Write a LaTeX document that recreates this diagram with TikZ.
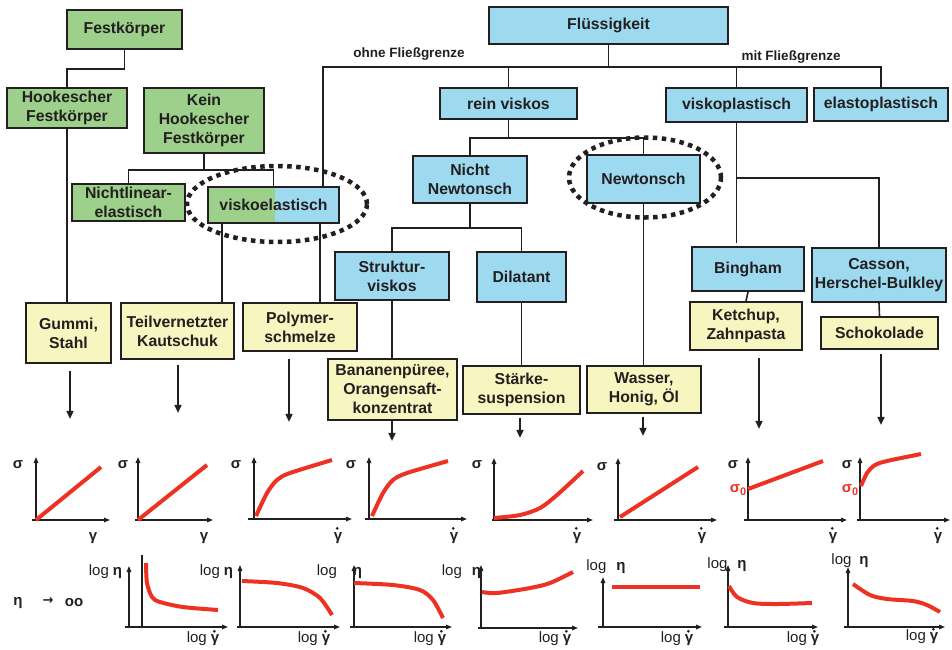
\documentclass[tikz,border=0pt]{standalone}
\usepackage{fontspec}
\setmainfont{Liberation Sans}
\newfontfamily\djv{DejaVu Sans}
\usetikzlibrary{arrows.meta,calc}
\definecolor{gfill}{HTML}{9CD08B}
\definecolor{bfill}{HTML}{9DDAF0}
\definecolor{yfill}{HTML}{F7F5C0}
\definecolor{rc}{HTML}{ED3224}
\definecolor{lc}{HTML}{231F20}
\newcommand\bx[6]{\node[#1,minimum width=#4pt,minimum height=#5pt] (#2) at (#3) {#6};}
\newcommand\lge[1]{log\hspace{#1}{\bfseries η}}
\newcommand\lgg{log\hspace{4pt}{\bfseries γ}}
\begin{document}
\begin{tikzpicture}[x=1pt,y=-1pt,line join=miter,
  box/.style={draw=lc,line width=1.8pt,inner sep=0pt,align=center,text=lc,
    font=\fontsize{15.8}{19}\selectfont\bfseries},
  gbox/.style={box,fill=gfill},
  bbox/.style={box,fill=bfill},
  ybox/.style={box,fill=yfill},
  conn/.style={draw=lc,line width=1.6pt},
  arr/.style={conn,-{Triangle[length=8pt,width=7pt]}},
  ax/.style={draw=lc,line width=1.4pt,-{Triangle[length=6pt,width=4.5pt]}},
  axn/.style={draw=lc,line width=1.4pt},
  crv/.style={draw=rc,line width=4pt},
  lbl/.style={inner sep=0pt,text=lc,font=\fontsize{15}{15}\selectfont\bfseries},
  lg/.style={inner sep=0pt,text=lc,font=\fontsize{15}{15}\selectfont},
  rlbl/.style={inner sep=0pt,text=rc,font=\fontsize{15}{15}\selectfont\bfseries},
  dots/.style={draw=lc,line width=4.5pt,dash pattern=on 4.5pt off 4.5pt},
  note/.style={inner sep=0pt,text=lc,font=\fontsize{13.5}{15}\selectfont\bfseries},
  gdot/.style={fill=lc}]
\useasboundingbox (0,0) rectangle (952,649);

% ---------- boxes ----------
\bx{gbox}{fest}{124.5,29.5}{115}{39}{Festkörper}
\bx{gbox}{hook}{67,108}{120}{40}{Hookescher\\Festkörper}
\bx{gbox}{kein}{204,120.5}{120}{65}{Kein\\Hookescher\\Festkörper}
\bx{gbox}{nle}{128.5,202.5}{113}{37}{Nichtlinear-\\elastisch}
\node[gbox,minimum width=131pt,minimum height=36pt,
  path picture={\fill[bfill] ($(path picture bounding box.south)+(1.5,0)$) rectangle (path picture bounding box.north east);}]
  (vis) at (273.5,205) {viskoelastisch};
\bx{bbox}{fl}{608.5,25.5}{239}{37}{Flüssigkeit}
\bx{bbox}{rein}{508.5,103.5}{137}{31}{rein viskos}
\bx{bbox}{vplast}{736.5,105}{141}{34}{viskoplastisch}
\bx{bbox}{elast}{881,104.5}{134}{33}{elastoplastisch}
\bx{bbox}{nn}{470,179.5}{114}{47}{Nicht\\Newtonsch}
\bx{bbox}{newt}{643.5,179}{113}{48}{Newtonsch}
\bx{bbox}{struk}{392,276}{114}{48}{Struktur-\\viskos}
\bx{bbox}{dil}{521.5,277}{89}{50}{Dilatant}
\bx{bbox}{bing}{748,269}{112}{44}{Bingham}
\bx{bbox}{cas}{879,275}{134}{54}{Casson,\\Herschel-Bulkley}
\bx{ybox}{gummi}{68.5,333}{85}{60}{Gummi,\\Stahl}
\bx{ybox}{teil}{177.5,331}{113}{56}{Teilvernetzter\\Kautschuk}
\bx{ybox}{poly}{300,327}{114}{48}{Polymer-\\schmelze}
\bx{ybox}{banan}{392.5,389.5}{129}{61}{Bananenpüree,\\Orangensaft-\\konzentrat}
\bx{ybox}{staerke}{521.5,390}{117}{48}{Stärke-\\suspension}
\bx{ybox}{wasser}{644,389.5}{114}{47}{Wasser,\\Honig, Öl}
\bx{ybox}{ketch}{746,326}{112}{48}{Ketchup,\\Zahnpasta}
\bx{ybox}{schok}{879.5,333}{117}{32}{Schokolade}

% ---------- connectors ----------
\coordinate (fbar1) at ($(fest.south)+(0,19)$);
\draw[conn] (fest.south) -- (fbar1) -| (hook.north);
\draw[conn] (hook.south) -- (hook.south |- gummi.north);
\coordinate (kbar) at ($(kein.south)+(0,16)$);
\draw[conn,line width=2.5pt] (kein.south) -- (kbar);
\draw[conn] (nle.north) |- (kbar) -| (vis.north);
\coordinate (vt) at ($(vis.south west)+(15,0)$);
\draw[conn] (vt) -- (vt |- teil.north);
\coordinate (vp) at ($(vis.south east)+(-20,0)$);
\draw[conn] (vp) -- (vp |- poly.north);
\coordinate (vo) at ($(vis.north east)+(-17,0)$);
\coordinate (fbar) at ($(fl.south)+(0,22)$);
\draw[conn] (fl.south) -- (fbar);
\draw[conn] (vo) |- (fbar) -| (elast.north);
\draw[conn] (rein.north) -- (rein.north |- fbar);
\draw[conn] (vplast.north) -- (vplast.north |- fbar);
\coordinate (rbar) at ($(rein.south)+(0,18)$);
\draw[conn] (rein.south) -- (rbar);
\draw[conn] (nn.north) |- (rbar) -| (newt.north);
\coordinate (nbar) at ($(nn.south)+(0,24)$);
\draw[conn] (nn.south) -- (nbar);
\draw[conn] (struk.north) |- (nbar) -| (dil.north);
\draw[conn] (newt.south) -- (newt.south |- wasser.north);
\draw[conn] (dil.south) -- (dil.south |- staerke.north);
\draw[conn] (struk.south) -- (struk.south |- banan.north);
\coordinate (vpend) at ($(vplast.south)+(0,120)$);
\coordinate (vpbar) at ($(vplast.south)+(0,55)$);
\draw[conn] (vplast.south) -- (vpend);
\draw[conn] (vpbar) -| (cas.north);
\draw[conn] (bing.south) -- (ketch.north);
\draw[conn] (cas.south) -- (schok.north);

\node[note] (ohne) at (409,54) {ohne Fließgrenze};
\node[note] (mit) at (791,57) {mit Fließgrenze};

% ---------- arrows down ----------
\draw[arr] ($(gummi.south)+(1.5,7)$) -- ++(0,48);
\draw[arr] ($(teil.south)+(0.5,5)$) -- ++(0,48);
\draw[arr] ($(poly.south)+(-11,7)$) -- ++(0,63);
\draw[arr] ($(banan.south)+(-0.5,0)$) -- ++(0,20);
\draw[arr] ($(staerke.south)+(-1.5,3)$) -- ++(0,20);
\draw[arr] ($(wasser.south)+(-1,3)$) -- ++(0,19);
\draw[arr] ($(ketch.south)+(13,7)$) -- ++(0,71);
\draw[arr] ($(schok.south)+(1.5,4)$) -- ++(0,71);

% ---------- dotted ellipses ----------
\draw[dots] (277,204) ellipse [x radius=90pt, y radius=38pt];
\draw[dots] (645,177.5) ellipse [x radius=76pt, y radius=40pt];

% ---------- top plots ----------
% P1
\draw[ax] (36,521) -- (36,457); \draw[ax] (32,520) -- (110,520);
\draw[crv] (36,520) -- (101,467);
\node[lbl] (s1) at (18,465) {σ}; \node[lbl] (g1) at (93,538) {γ};
% P2
\draw[ax] (138,521) -- (138,457); \draw[ax] (135,520) -- (213,520);
\draw[crv] (138,520) -- (207,465);
\node[lbl] (s2) at (123,465) {σ}; \node[lbl] (g2) at (204,538) {γ};
% P3
\draw[ax] (254,520) -- (254,457); \draw[ax] (248,519) -- (352,519);
\draw[crv] plot[smooth] coordinates {(256,516) (267,493) (277,480) (290,473) (332,460)};
\node[lbl] (s3) at (236,465) {σ}; \node[lbl] (g3) at (338,538) {γ};
% P4
\draw[ax] (369,520) -- (369,457); \draw[ax] (365,519) -- (467,519);
\draw[crv] plot[smooth] coordinates {(372,516) (383,493) (393,480) (407,473) (448,461)};
\node[lbl] (s4) at (351,465) {σ}; \node[lbl] (g4) at (454,538) {γ};
% P5
\draw[ax] (494,521) -- (494,458); \draw[ax] (492,520) -- (593,520);
\draw[crv] plot[smooth] coordinates {(494,518) (520,515) (540,508) (557,495) (583,471)};
\node[lbl] (s5) at (477,465) {σ}; \node[lbl] (g5) at (577,538) {γ};
% P6
\draw[ax] (618,521) -- (618,458); \draw[ax] (614,520) -- (717,520);
\draw[crv] (620,517) -- (698,467);
\node[lbl] (s6) at (602,467) {σ}; \node[lbl] (g6) at (702,538) {γ};
% P7
\draw[ax] (748,521) -- (748,457); \draw[ax] (744,520) -- (847,520);
\draw[crv] (748,489) -- (823,461);
\node[lbl] (s7) at (733,465) {σ}; \node[lbl] (g7) at (833,538) {γ};
\node[rlbl] (z7) at (738,490) {σ\raisebox{-0.25em}{\fontsize{11}{11}\selectfont 0}};
% P8
\draw[ax] (860,521) -- (860,457); \draw[ax] (857,520) -- (950,520);
\draw[crv] plot[smooth] coordinates {(861,486) (867,473) (875,465) (887,461) (921,454)};
\node[lbl] (s8) at (847,465) {σ}; \node[lbl] (g8) at (938,538) {γ};
\node[rlbl] (z8) at (850,490) {σ\raisebox{-0.25em}{\fontsize{11}{11}\selectfont 0}};
\foreach \g in {g3,g4,g5,g6,g7,g8}
  \fill[gdot] ($(\g.north)+(-0.8,-4)$) circle (1.5pt);

% ---------- bottom plots ----------
\node[lbl] (eta0) at (18,603) {η};
\node[inner sep=0pt,text=lc,font=\djv\fontsize{13}{13}\selectfont\bfseries] (to0) at (48,601) {→};
\node[lbl] (oo0) at (74,603) {oo};
% B1
\draw[ax] (129,628) -- (129,566); \draw[ax] (125,627) -- (228,627);
\draw[axn] (142,627) -- (142,555);
\draw[crv] plot[smooth] coordinates {(146,563) (147,583) (152,597) (160,602) (183,607) (218,610)};
\node[lg] (l1) at (105.5,572) {\lge{4pt}};
\node[lg] (x1) at (203,639) {\lgg};
% B2
\draw[ax] (240,628) -- (240,565); \draw[ax] (237,627) -- (340,627);
\draw[crv] plot[smooth] coordinates {(242,581) (277,583) (303,588) (320,598) (332,615)};
\node[lg] (l2) at (216.5,572) {\lge{4pt}};
\node[lg] (x2) at (314,639) {\lgg};
% B3
\draw[ax] (354,628) -- (354,565); \draw[ax] (350,627) -- (452,627);
\draw[crv] plot[smooth] coordinates {(354,583) (393,585) (420,590) (433,600) (443,618)};
\node[lg] (l3) at (339.5,572) {\lge{16pt}};
\node[lg] (x3) at (430,639) {\lgg};
% B4
\draw[ax] (481,629) -- (481,565); \draw[ax] (478,628) -- (578,628);
\draw[crv] plot[smooth] coordinates {(482,592) (497,593) (530,588) (550,583) (573,572)};
\node[lg] (l4) at (461.5,572) {\lge{10pt}};
\node[lg] (x4) at (555,639) {\lgg};
% B5
\draw[ax] (603,628) -- (603,577); \draw[ax] (598,627) -- (702,627);
\draw[crv] (612,587) -- (700,587);
\node[lg] (l5) at (606,567) {\lge{10pt}};
\node[lg] (x5) at (677,639) {\lgg};
% B6
\draw[ax] (728,628) -- (728,565); \draw[ax] (724,627) -- (818,627);
\draw[crv] plot[smooth] coordinates {(729,586) (737,597) (753,603) (777,604) (812,603)};
\node[lg] (l6) at (727,565) {\lge{10pt}};
\node[lg] (x6) at (803,639) {\lgg};
% B7
\draw[ax] (848,628) -- (848,567); \draw[ax] (844,627) -- (945,627);
\draw[crv] plot[smooth] coordinates {(853,584) (870,595) (887,599) (913,601) (927,605) (940,612)};
\node[lg] (l7) at (850,561) {\lge{8pt}};
\node[lg] (x7) at (922,637) {\lgg};
\foreach \x in {x1,x2,x3,x4,x5,x6,x7}
  \fill[gdot] ($(\x.north east)+(-5,-0.5)$) circle (1.5pt);
\end{tikzpicture}
\end{document}
